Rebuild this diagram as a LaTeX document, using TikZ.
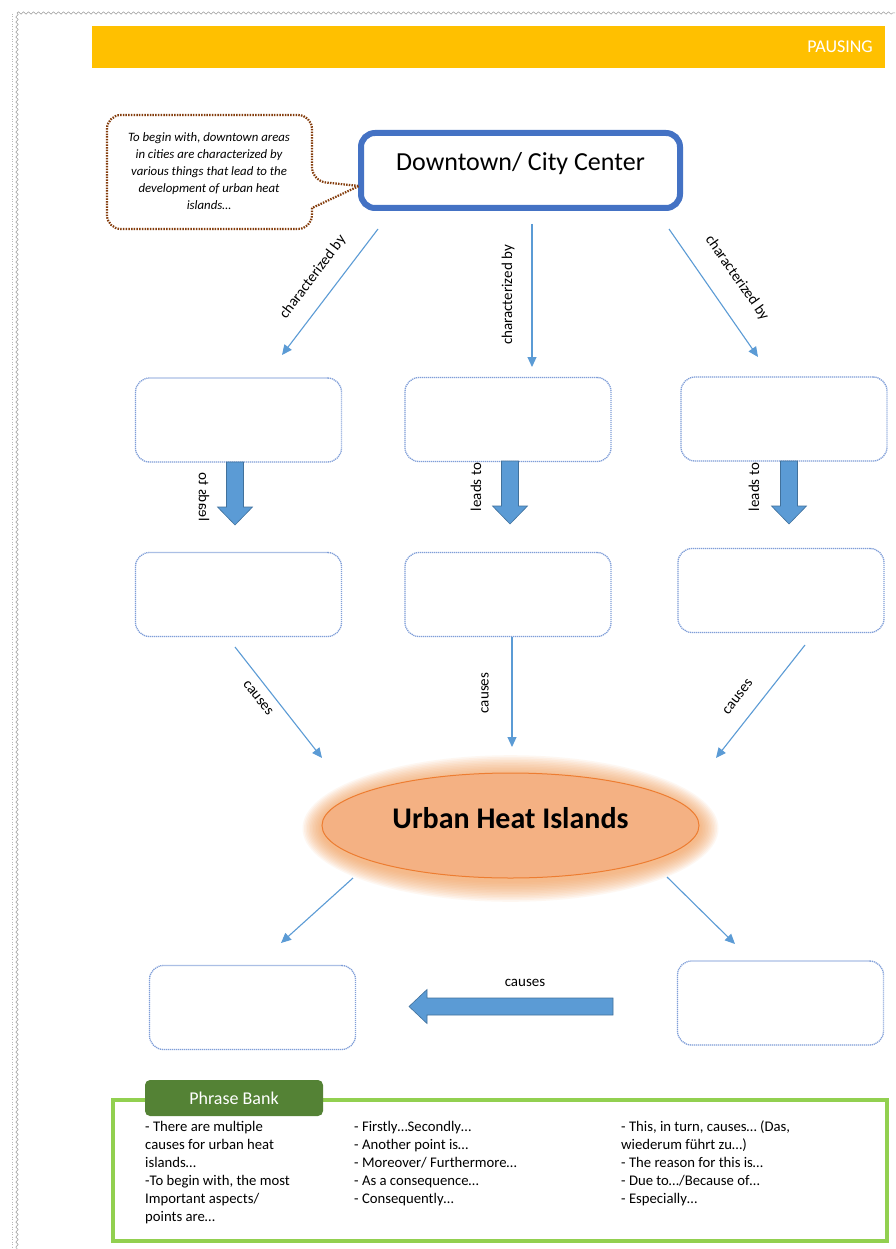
\documentclass[tikz,border=0pt]{standalone}
\usepackage{fontspec}
\setmainfont{Carlito}
\usetikzlibrary{calc,shapes.geometric,arrows.meta,decorations.pathmorphing}

\definecolor{bannerYellow}{HTML}{FFC000}
\definecolor{cityBlue}{HTML}{4472C4}
\definecolor{linkBlue}{HTML}{5B9BD5}
\definecolor{linkEdge}{HTML}{41719C}
\definecolor{slotBlue}{HTML}{7F9ED8}
\definecolor{calloutBrown}{HTML}{843C0C}
\definecolor{heatFill}{HTML}{F4B183}
\definecolor{heatEdge}{HTML}{ED7D31}
\definecolor{heatGlow}{HTML}{F5984F}
\definecolor{bankGreen}{HTML}{92D050}
\definecolor{tabGreen}{HTML}{548235}
\definecolor{pageEdge}{HTML}{9A9A9A}

\newcommand\fsz[2]{\fontsize{#1}{#2}\selectfont}

\begin{document}
\begin{tikzpicture}[x=1pt,y=-1pt,
  slot/.style={draw=slotBlue, line width=1.3pt, dash pattern=on 1.2pt off 0.8pt,
    rounded corners=14pt, minimum width=206pt, minimum height=84pt, inner sep=0pt},
  thinlink/.style={draw=linkBlue, line width=1.1pt, -{Triangle[length=10pt,width=9pt]}},
  linklabel/.style={font=\fsz{15}{18}, inner sep=0pt, text=black},
  blockarrow/.style={fill=linkBlue, draw=linkEdge, line width=0.6pt},
  pics/downblock/.style={code={
    \path[blockarrow] (-8.5,0) -- (8.5,0) -- (8.5,45) -- (17.5,45) -- (0,63)
      -- (-17.5,45) -- (-8.5,45) -- cycle;}},
  pics/leftblock/.style={code={
    \path[blockarrow] (0,-8.5) -- (0,8.5) -- (-186,8.5) -- (-186,17) -- (-204,0)
      -- (-186,-17) -- (-186,-8.5) -- cycle;}},
]
\useasboundingbox (0,0) rectangle (895,1249);
\fill[white] (0,0) rectangle (895,1249);

% page edge
\draw[pageEdge, line width=0.5pt, decorate,
  decoration={snake, amplitude=1.2pt, segment length=5pt}] (17,13) -- (895,13);
\draw[pageEdge, line width=0.5pt, decorate,
  decoration={snake, amplitude=1.2pt, segment length=5pt}] (17,13) -- (17,1249);
\draw[pageEdge!70, line width=0.5pt, dotted] (12,14) -- (12,1249);

% header bar
\fill[bannerYellow] (92,26) rectangle (885,68);
\node[font=\fsz{18}{20}, text=white, anchor=east, inner sep=0pt] (pausing) at (873,47) {PAUSING};

% central topic box
\node[draw=cityBlue, line width=6pt, rounded corners=14pt, minimum width=319pt,
  minimum height=75pt, inner sep=0pt,
  label={[font=\fsz{26}{30}, yshift=7pt]center:Downtown/ City Center}] (down) at (520.5,170.5) {};

% speech bubble
\draw[calloutBrown, line width=2.2pt, dash pattern=on 1.5pt off 1.2pt, rounded corners=14pt]
  (312,208) -- (312,229) -- (107,229) -- (107,115) -- (312,115) -- (312,181)
  [sharp corners] -- (359,186) -- cycle;
\node[font=\fsz{12.8}{17}\itshape, align=center, inner sep=0pt] (callout) at (209,171)
  {To begin with, downtown areas\\in cities are characterized by\\various things that lead to the\\development of urban heat\\islands…};

% empty answer slots
\node[slot] (A1) at (238.5,420) {};
\node[slot] (B1) at (508,419.5) {};
\node[slot] (C1) at (784,419) {};
\node[slot] (A2) at (238.5,594.5) {};
\node[slot] (B2) at (508,594.5) {};
\node[slot] (C2) at (781,590.5) {};
\node[slot] (D) at (252.5,1007.5) {};
\node[slot] (E) at (780.5,1003) {};

% "characterized by" links
\coordinate (dA) at (378,229); \coordinate (tA) at (282,355);
\coordinate (dB) at (532,224); \coordinate (tB) at (532,367);
\coordinate (dC) at (669,229); \coordinate (tC) at (758,357);
\draw[thinlink] (dA) -- (tA);
\draw[thinlink] (dB) -- (tB);
\draw[thinlink] (dC) -- (tC);
\node[linklabel, rotate=53] (lblA) at (313,277) {characterized by};
\node[linklabel, rotate=90] (lblB) at (508,295) {characterized by};
\node[linklabel, rotate=-55] (lblC) at (737,278) {characterized by};

% "leads to" block arrows
\pic at (235,462) {downblock};
\pic at (510,461) {downblock};
\pic at (789,461) {downblock};
\node[linklabel, rotate=90, yscale=-1] (ledA) at (204,497) {leads to};
\node[linklabel, rotate=90] (ledB) at (476,487) {leads to};
\node[linklabel, rotate=90] (ledC) at (754,487) {leads to};

% "causes" links into the ellipse
\coordinate (sA) at (235,647); \coordinate (eA) at (322,758);
\coordinate (sB) at (512,637); \coordinate (eB) at (512,747);
\coordinate (sC) at (805,645); \coordinate (eC) at (716,758);
\draw[thinlink] (sA) -- (eA);
\draw[thinlink] (sB) -- (eB);
\draw[thinlink] (sC) -- (eC);
\node[linklabel, rotate=-52] (cauA) at (258,698) {causes};
\node[linklabel, rotate=90] (cauB) at (485,693) {causes};
\node[linklabel, rotate=52] (cauC) at (738,697) {causes};

% glowing ellipse
\foreach \i in {1,...,13}
  \fill[heatGlow, opacity=0.075] (510.5,828.5) ellipse [x radius={188.5+1.5*\i}, y radius={52.5+1.6*\i}];
\node[ellipse, draw=heatEdge, fill=heatFill, line width=1pt, minimum width=377pt,
  minimum height=105pt, inner sep=0pt,
  label={[font=\fsz{30}{34}\bfseries, yshift=7.5pt]center:Urban Heat Islands}] (uhi) at (510.5,825.5) {};

% consequences
\coordinate (oL) at (353,878); \coordinate (iL) at (281,943);
\coordinate (oR) at (667,877); \coordinate (iR) at (735,944);
\draw[thinlink] (oL) -- (iL);
\draw[thinlink] (oR) -- (iR);
\pic at (613,1006.5) {leftblock};
\node[linklabel] (cauH) at (525,983) {causes};

% phrase bank
\draw[bankGreen, line width=4pt] (113,1100) rectangle (887,1241);
\node[fill=tabGreen, rounded corners=5pt, minimum width=178pt, minimum height=36pt,
  inner sep=0pt, text=white, font=\fsz{18}{20}] (bank) at (234,1098) {Phrase Bank};
\node[anchor=north west, align=left, inner sep=0pt, font=\fsz{14.7}{18}] (col1) at (145,1121)
  {- There are multiple\\causes for urban heat\\islands…\\-To begin with, the most\\Important aspects/\\points are…};
\node[anchor=north west, align=left, inner sep=0pt, font=\fsz{14.7}{18}] (col2) at (354,1121)
  {- Firstly…Secondly…\\- Another point is…\\- Moreover/ Furthermore…\\- As a consequence…\\- Consequently…};
\node[anchor=north west, align=left, inner sep=0pt, font=\fsz{14.7}{18}] (col3) at (621,1121)
  {- This, in turn, causes… (Das,\\wiederum führt zu…)\\- The reason for this is…\\- Due to…/Because of…\\- Especially…};
\end{tikzpicture}
\end{document}
